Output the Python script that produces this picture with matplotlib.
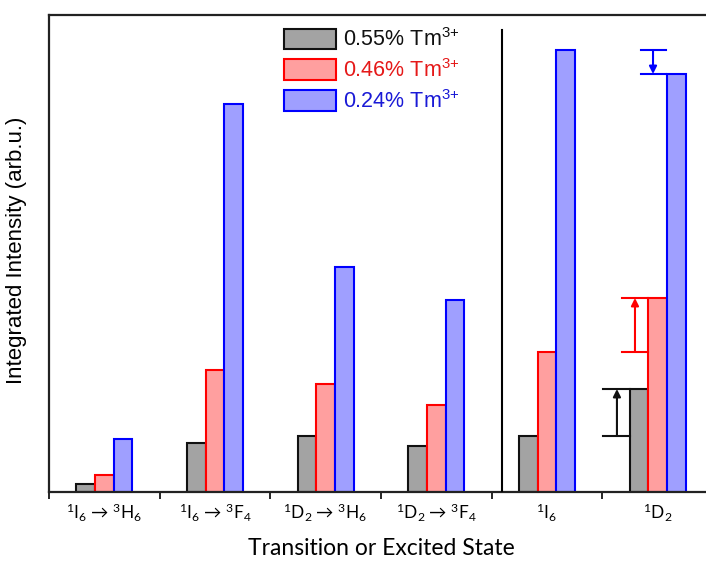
import matplotlib
matplotlib.use("Agg")
import matplotlib.pyplot as plt
import numpy as np

plt.rcParams['mathtext.default'] = 'regular'

categories = ["$^1$I$_6$ → $^3$H$_6$", "$^1$I$_6$ → $^3$F$_4$", "$^1$D$_2$ → $^3$H$_6$",
              "$^1$D$_2$ → $^3$F$_4$", "$^1$I$_6$", "$^1$D$_2$"]
series_labels = ["0.55% Tm$^{3{+}}$", "0.46% Tm$^{3{+}}$", "0.24% Tm$^{3{+}}$"]
gray_vals = [7.7, 49, 56, 46, 56, 103]
red_vals = [17, 122, 108, 87, 140, 194]
blue_vals = [53, 388, 225, 192, 442, 418]

fills = ["#a3a3a3", "#ff9f9f", "#9f9fff"]
edges = ["#111111", "#ff0000", "#0000ff"]
text_cols = ["#111111", "#e51919", "#1a1ad6"]

fig = plt.figure(figsize=(7.06, 5.61), dpi=100)
ax = fig.add_axes([49/706, (561-492)/561, 664/706, 477/561])

x = np.arange(len(categories))
w = 0.169
handles = []
for k, vals in enumerate([gray_vals, red_vals, blue_vals]):
    b = ax.bar(x + (k-1)*w, vals, width=w, color=fills[k], edgecolor=edges[k],
               linewidth=1.5, label=series_labels[k], zorder=2)
    handles.append(b)

ax.set_xlim(-0.5, 5.5)
ax.set_ylim(0, 477)
ax.set_yticks([])
ax.set_xticks(x)
ax.set_xticklabels(categories, family=['Lato', 'DejaVu Sans'], fontsize=12.5)
ax.tick_params(axis='x', which='major', length=0, pad=7)
ax.set_xticks(np.arange(-0.5, 6.0, 1.0), minor=True)
ax.tick_params(axis='x', which='minor', length=5, width=1.2, direction='out')
for s in ['left', 'top', 'bottom', 'right']:
    ax.spines[s].set_linewidth(1.6)
    ax.spines[s].set_color('#222222')

# divider
ax.plot([3.593, 3.593], [0, 462], color='black', lw=1.5, zorder=3)

# change indicators between the two excited-state groups
def change_marker(xc, half, y0, y1, col):
    ax.plot([xc-half, xc+half], [y0, y0], color=col, lw=1.5, zorder=3)
    ax.plot([xc-half, xc+half], [y1, y1], color=col, lw=1.5, zorder=3)
    ax.annotate("", xy=(xc, y1), xytext=(xc, y0),
                arrowprops=dict(arrowstyle='-|>', color=col, lw=1.5,
                                mutation_scale=11, shrinkA=0, shrinkB=0), zorder=3)

change_marker(4.632, 0.122, gray_vals[4], gray_vals[5], edges[0])
change_marker(4.795, 0.118, red_vals[4], red_vals[5], edges[1])
change_marker(4.958, 0.113, blue_vals[4], blue_vals[5], edges[2])

leg = ax.legend(handles=handles, loc='upper left', bbox_to_anchor=(0.354, 0.972),
                frameon=False, prop={'family': 'Liberation Sans', 'size': 15.5},
                handlelength=2.4, handleheight=1.1, labelspacing=0.36,
                handletextpad=0.33, borderpad=0, borderaxespad=0)
for t, c in zip(leg.get_texts(), text_cols):
    t.set_color(c)

ax.set_xlabel("Transition or Excited State", family='Lato', fontsize=16.5, labelpad=10)
fig.text(17/706, 1 - 250/561, "Integrated Intensity (arb.u.)", rotation=90,
         ha='center', va='center', family='Liberation Sans', fontsize=16)

fig.savefig("out.png", dpi=100)
